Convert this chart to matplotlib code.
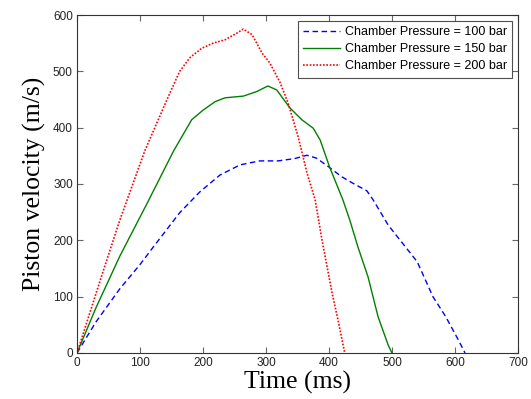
import matplotlib
matplotlib.use("Agg")
import matplotlib.pyplot as plt

# Chamber Pressure = 100 bar
t100 = [0, 30, 68, 100, 121, 163, 195, 227, 259, 290, 319, 345, 365, 380, 400, 420, 440, 460, 470, 494, 540, 565, 585, 603, 616]
v100 = [0, 55, 114, 157, 188, 249, 286, 316, 334, 341, 341, 345, 351, 346, 330, 313, 300, 288, 272, 227, 162, 100, 65, 28, 0]

# Chamber Pressure = 150 bar
t150 = [0, 30, 68, 111, 153, 182, 200, 219, 235, 264, 285, 303, 317, 338, 357, 375, 386, 401, 422, 433, 446, 462, 478, 494, 500]
v150 = [0, 80, 172, 265, 358, 414, 431, 446, 453, 456, 464, 474, 467, 435, 414, 399, 378, 330, 272, 236, 188, 135, 64, 14, 0]

# Chamber Pressure = 200 bar
t200 = [0, 40, 68, 108, 148, 163, 179, 198, 216, 235, 254, 264, 278, 294, 306, 322, 335, 351, 365, 378, 389, 405, 415, 425]
v200 = [0, 140, 236, 360, 463, 500, 524, 541, 550, 556, 568, 575, 565, 532, 515, 481, 444, 384, 320, 272, 200, 106, 55, 0]

labels = ["Chamber Pressure = 100 bar", "Chamber Pressure = 150 bar", "Chamber Pressure = 200 bar"]

fig = plt.figure(figsize=(5.31, 3.99), dpi=100)
ax = fig.add_axes([0.145, 0.1153, 0.8305, 0.8471])

ax.plot(t100, v100, color=(0, 0, 1), linestyle=(0, (4, 2.5)), linewidth=1.0, label=labels[0])
ax.plot(t150, v150, color=(0, 0.5, 0), linestyle="-", linewidth=1.0, label=labels[1])
ax.plot(t200, v200, color=(1, 0, 0), linestyle=(0, (1, 1)), linewidth=1.2, label=labels[2])

ax.set_xlim(0, 700)
ax.set_ylim(0, 600)
ax.set_xticks(range(0, 701, 100))
ax.set_yticks(range(0, 601, 100))

for s in ax.spines.values():
    s.set_color("#333333")
    s.set_linewidth(0.8)
ax.tick_params(direction="in", top=True, right=True, length=4, width=0.8,
               colors="#666666", labelcolor="#222222", labelsize=8.5, pad=3)
for lab in ax.get_xticklabels() + ax.get_yticklabels():
    lab.set_family("Liberation Sans")

ax.set_xlabel("Time (ms)", family="Liberation Serif", fontsize=18.5, labelpad=1)
ax.set_ylabel("Piston velocity (m/s)", family="Liberation Serif", fontsize=18.5, labelpad=5)

leg = ax.legend(loc="upper right", prop={"family": "Liberation Sans", "size": 9},
                frameon=True, fancybox=False, borderpad=0.45, labelspacing=0.4,
                handlelength=2.9, handletextpad=0.4, borderaxespad=0.45)
leg.get_frame().set_edgecolor("#222222")
leg.get_frame().set_linewidth(0.8)

fig.savefig("out.png", dpi=100)
